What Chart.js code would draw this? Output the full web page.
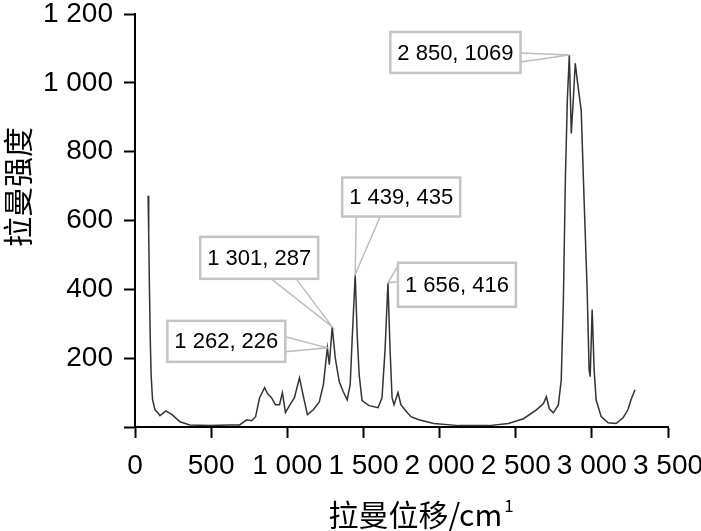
<!DOCTYPE html>
<html><head><meta charset="utf-8">
<script src="https://cdn.jsdelivr.net/npm/chart.js@4"></script>
<style>html,body{margin:0;padding:0;background:#fff}#wrap{width:701px;height:531px;position:relative}</style>
</head><body><div id="wrap"><canvas id="c" width="701" height="531"></canvas></div>
<script>
// Raman shift (cm^-1) and intensity
const wavenumber = [86,90,95,100,106,115,131,151,164,203,243,295,360,491,622,687,733,766,792,818,851,870,896,922,949,968,988,1014,1047,1080,1099,1132,1171,1210,1237,1263,1276,1295,1315,1341,1367,1393,1413,1426,1446,1459,1472,1491,1537,1596,1622,1642,1661,1675,1688,1701,1727,1746,1772,1812,1864,1962,2126,2322,2452,2551,2636,2682,2701,2721,2747,2780,2799,2813,2826,2839,2852,2865,2878,2891,2904,2930,2949,2969,2982,2989,3002,3015,3028,3061,3107,3159,3205,3237,3257,3283];
const intensity  = [672,560,400,260,150,80,50,41,33,47,36,15,6,4,6,6,21,18,30,85,114,97,85,65,65,100,42,62,85,143,103,36,50,73,123,230,181,291,201,132,103,79,123,254,443,268,152,77,62,56,85,224,419,224,85,65,100,65,50,30,21,10,4,4,10,24,50,68,88,53,41,64,137,369,718,951,1081,853,951,1057,1008,920,660,398,166,146,341,166,79,30,12,10,27,50,79,108];
const xTickLabels = ['0','500','1 000','1 500','2 000','2 500','3 000','3 500'];
const yTickLabels = ['','200','400','600','800','1 000','1 200'];
const calloutTexts = ['2 850, 1069','1 439, 435','1 656, 416','1 301, 287','1 262, 226'];
const calloutPeakShift = [2852,1446,1661,1295,1263];
const xTitle = '拉曼位移/cm';
const xTitleSup = '1';
const yTitle = '拉曼强度';

// box placement relative to the peak pixel (layout only)
const calloutLayout = [
  {dx:-179, dy:-23, h:41, side:'right',  a:[21,30]},
  {dx:-13,  dy:-97, h:39, side:'bottom', a:[14,38]},
  {dx:10,   dy:-20, h:44, side:'left',   a:[3,19]},
  {dx:-132, dy:-90, h:42, side:'bottom', a:[71,96]},
  {dx:-160, dy:-27, h:41, side:'right',  a:[16,31]}
];

const decor = {
  id:'decor',
  afterDatasetsDraw(chart){
    const ctx = chart.ctx, xs = chart.scales.x, ys = chart.scales.y;
    ctx.save();
    ctx.font = '22px "Liberation Sans"';
    calloutTexts.forEach((t,i)=>{
      const idx = wavenumber.indexOf(calloutPeakShift[i]);
      const px = xs.getPixelForValue(wavenumber[idx]);
      const py = ys.getPixelForValue(intensity[idx]);
      const L = calloutLayout[i];
      const w = ctx.measureText(t).width + 14;
      const bx = px + L.dx, by = py + L.dy;
      let p1, p2;
      if (L.side==='right'){ p1=[bx+w, by+L.a[0]]; p2=[bx+w, by+L.a[1]]; }
      else if (L.side==='left'){ p1=[bx, by+L.a[0]]; p2=[bx, by+L.a[1]]; }
      else { p1=[bx+L.a[0], by+L.h]; p2=[bx+L.a[1], by+L.h]; }
      ctx.strokeStyle='#bdbdbd'; ctx.lineWidth=1.5;
      ctx.beginPath(); ctx.moveTo(p1[0],p1[1]); ctx.lineTo(px,py); ctx.lineTo(p2[0],p2[1]); ctx.stroke();
      ctx.fillStyle='#fff'; ctx.fillRect(bx,by,w,L.h);
      ctx.strokeStyle='#c4c4c4'; ctx.lineWidth=2.5; ctx.strokeRect(bx,by,w,L.h);
      ctx.fillStyle='#000'; ctx.textAlign='center'; ctx.textBaseline='middle';
      ctx.fillText(t, bx+w/2, by+L.h/2+1);
    });
    ctx.restore();
  },
  afterDraw(chart){
    const ctx = chart.ctx;
    ctx.save();
    ctx.fillStyle='#000';
    ctx.font='30px "Noto Sans CJK SC"';
    ctx.textBaseline='middle';
    // y title
    ctx.save(); ctx.translate(18,187); ctx.rotate(-Math.PI/2);
    ctx.textAlign='center'; ctx.fillText(yTitle,0,0); ctx.restore();
    // x title
    const w1 = ctx.measureText(xTitle).width;
    ctx.font='17px "Noto Sans CJK SC"';
    const w2 = ctx.measureText(xTitleSup).width;
    const start = 421 - (w1+w2+2)/2;
    ctx.font='30px "Noto Sans CJK SC"'; ctx.textAlign='left';
    ctx.fillText(xTitle, start, 515);
    ctx.font='17px "Noto Sans CJK SC"';
    ctx.fillText(xTitleSup, start+w1+2, 506);
    ctx.restore();
  }
};

new Chart(document.getElementById('c'), {
  type:'scatter',
  data:{ datasets:[{
    data: wavenumber.map((x,i)=>({x:x, y:intensity[i]})),
    showLine:true, borderColor:'#333333', borderWidth:1.5, pointRadius:0, tension:0, fill:false
  }]},
  options:{
    responsive:false, animation:false, devicePixelRatio:1,
    layout:{padding:{left:0, top:14, right:33, bottom:0}},
    plugins:{legend:{display:false}, tooltip:{enabled:false}},
    scales:{
      x:{ type:'linear', min:0, max:3500,
        afterFit(s){ s.height=104; s.paddingLeft=0; s.paddingRight=0; },
        border:{display:true, color:'#000', width:2},
        grid:{display:true, drawOnChartArea:false, drawTicks:true, tickLength:11, tickColor:'#000', tickWidth:2},
        ticks:{stepSize:500, autoSkip:false, maxRotation:0, padding:11, color:'#000',
          font:{family:'"Liberation Sans"', size:28},
          callback:(v,i)=>xTickLabels[i]}
      },
      y:{ min:0, max:1200,
        afterFit(s){ s.width=135; s.paddingTop=0; s.paddingBottom=0; },
        border:{display:true, color:'#000', width:2},
        grid:{display:true, drawOnChartArea:false, drawTicks:true, tickLength:11, tickColor:'#000', tickWidth:2},
        ticks:{stepSize:200, padding:11, color:'#000',
          font:{family:'"Liberation Sans"', size:28},
          callback:(v,i)=>yTickLabels[i]}
      }
    }
  },
  plugins:[decor]
});
</script></body></html>
